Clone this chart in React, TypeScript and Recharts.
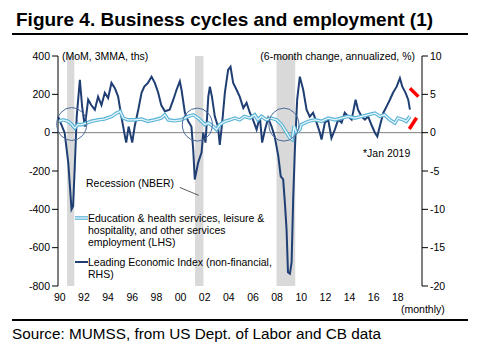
import {
  ComposedChart,
  Line,
  XAxis,
  YAxis,
  ReferenceArea,
  ReferenceLine,
  ReferenceDot,
} from 'recharts'

// Education & health, leisure & hospitality, other services (MoM, 3MMA, ths) - LHS
const eduYears = [
  1989.86, 1990.27, 1990.7, 1991.0, 1991.24, 1991.5, 1991.8, 1992.2, 1992.6, 1993.2,
  1993.7, 1994.3, 1994.7, 1995.0, 1995.25, 1995.66, 1996.2, 1996.77, 1997.3, 1997.87,
  1998.4, 1998.7, 1998.97, 1999.5, 2000.08, 2000.63, 2001.05, 2001.46, 2001.74, 2002.0,
  2002.3, 2002.7, 2002.98, 2003.25, 2003.67, 2004.1, 2004.5, 2004.9, 2005.3, 2005.74,
  2006.15, 2006.4, 2006.7, 2007.1, 2007.5, 2007.95, 2008.37, 2008.78, 2009.06, 2009.25,
  2009.4, 2009.6, 2009.88, 2010.0, 2010.58, 2011.13, 2011.68, 2012.23, 2012.78, 2013.34,
  2013.9, 2014.44, 2015.0, 2015.54, 2016.1, 2016.5, 2016.9, 2017.34, 2017.75, 2018.0,
  2018.45, 2018.7, 2019.0,
]
const eduValues = [
  59, 67, 59, 42, 24, 42, 42, 50, 59, 67,
  71, 85, 102, 111, 76, 67, 67, 71, 59, 67,
  76, 93, 67, 62, 67, 85, 93, 76, 59, 42,
  50, 33, 16, 42, 59, 67, 76, 67, 85, 76,
  93, 67, 85, 67, 76, 67, 42, 0, -28, -36,
  33, 0, 16, 42, 59, 67, 59, 76, 67, 76,
  85, 76, 85, 93, 102, 85, 93, 67, 50, 76,
  67, 59, 85,
]

// Leading Economic Index (non-financial), 6-month change annualized, % - RHS
const leiYears = [
  1989.86, 1990.14, 1990.4, 1990.7, 1990.97, 1991.1, 1991.24, 1991.4, 1991.66, 1991.85,
  1992.07, 1992.35, 1992.6, 1992.9, 1993.17, 1993.45, 1993.73, 1994.0, 1994.28, 1994.56,
  1994.83, 1995.1, 1995.4, 1995.5, 1995.7, 1996.0, 1996.2, 1996.5, 1996.77, 1997.0,
  1997.3, 1997.6, 1997.87, 1998.15, 1998.4, 1998.7, 1999.1, 1999.4, 1999.67, 1999.94,
  2000.08, 2000.36, 2000.63, 2000.9, 2001.05, 2001.18, 2001.46, 2001.74, 2001.88, 2002.07,
  2002.3, 2002.43, 2002.6, 2002.84, 2003.1, 2003.25, 2003.45, 2003.67, 2003.94, 2004.14,
  2004.36, 2004.64, 2004.9, 2005.2, 2005.47, 2005.74, 2006.0, 2006.3, 2006.57, 2006.76,
  2007.0, 2007.26, 2007.54, 2007.8, 2008.1, 2008.3, 2008.5, 2008.64, 2008.78, 2008.9,
  2009.06, 2009.2, 2009.33, 2009.47, 2009.66, 2009.88, 2010.16, 2010.44, 2010.7, 2010.98,
  2011.27, 2011.54, 2011.68, 2011.95, 2012.23, 2012.5, 2012.78, 2013.06, 2013.34, 2013.6,
  2013.9, 2014.17, 2014.5, 2014.7, 2015.0, 2015.27, 2015.54, 2015.82, 2016.1, 2016.3,
  2016.5, 2016.8, 2017.06, 2017.34, 2017.6, 2017.9, 2018.17, 2018.37, 2018.64, 2018.86,
  2019.0,
]
const leiValues = [
  2.1, 1.0, 0, -3.9, -10, -9.6, -4.4, 2.1, 6.9, 3.4,
  0.8, 4.3, 3.6, 3.0, 4.7, 3.6, 5.2, 4.5, 6.5, 5.8,
  4.7, 2.1, -0.5, -1.3, 0.8, -1.3, 0.8, 3.0, 5.2, 6.0,
  6.5, 7.3, 6.5, 5.2, 3.6, 2.8, 3.0, 4.3, 5.6, 6.7,
  5.6, 2.6, 1.5, 0.8, -2.2, -6.1, -3.9, -2.6, 0, -1.3,
  4.7, 6.0, 4.7, 2.1, 0.8, -1.6, 1.3, 5.2, 8.2, 8.6,
  6.5, 5.6, 4.7, 3.2, 3.9, 2.6, 1.7, 0.4, 2.1, -1.3,
  0.4, 1.9, 0.8, -0.5, -3.1, -5.7, -6.1, -9.1, -12.6, -18.2,
  -18.4, -16.9, -8.7, -2.2, 4.3, 7.3, 5.6, 3.0, 2.1, 2.6,
  1.3, 0, -0.9, 1.3, 1.7, -0.7, 0.4, 1.7, 1.3, 2.6,
  2.1, 1.7, 4.3, 3.0, 2.1, 1.7, 2.1, 1.0, 0, -0.5,
  0.8, 2.6, 3.4, 4.3, 5.2, 6.0, 7.1, 6.0, 5.2, 4.3,
  3.0,
]

// NBER recessions
const recessionStart = [1990.6, 2001.2, 2007.95]
const recessionEnd = [1991.2, 2001.9, 2009.5]

// circled spots (year, LHS value)
const circleYears = [1990.99, 2001.39, 2008.56]
const circleValues = [45, 42, 42]

const xTicks = [1990, 1992, 1994, 1996, 1998, 2000, 2002, 2004, 2006, 2008, 2010, 2012, 2014, 2016, 2018]
const leftTicks = [-800, -600, -400, -200, 0, 200, 400]
const rightTicks = [-20, -15, -10, -5, 0, 5, 10]

type Row = { t: number; edu?: number; lei?: number }

const rows: Row[] = []
eduYears.forEach((t, i) => rows.push({ t, edu: eduValues[i] }))
leiYears.forEach((t, i) => {
  const hit = rows.find((r) => r.t === t)
  if (hit) hit.lei = leiValues[i]
  else rows.push({ t, lei: leiValues[i] })
})
rows.sort((a, b) => a.t - b.t)

const FONT = '"Liberation Sans", Arial, sans-serif'
const NAVY = '#1f3f74'
const CYAN = '#5ab4d6'

const tickStyle = { fill: '#000', fontSize: 10.5, fontFamily: FONT }

function LegendBox() {
  const row = { display: 'flex', alignItems: 'flex-start' } as const
  return (
    <div
      style={{
        position: 'absolute',
        left: 75,
        top: 177,
        width: 230,
        fontFamily: FONT,
        fontSize: 10.5,
        lineHeight: '12px',
        color: '#000',
      }}
    >
      <div style={{ marginLeft: 11, marginBottom: 23 }}>Recession (NBER)</div>
      <div style={row}>
        <svg width={13} height={12} style={{ flex: 'none' }}>
          <line x1={0} y1={6} x2={13} y2={6} stroke={CYAN} strokeWidth={3.6} />
          <line x1={0} y1={6} x2={13} y2={6} stroke="#e6f5fb" strokeWidth={1.3} />
        </svg>
        <div>
          Education &amp; health services, leisure &amp;
          <br />
          hospitality, and other services
          <br />
          employment (LHS)
        </div>
      </div>
      <div style={{ ...row, marginTop: 8 }}>
        <svg width={13} height={12} style={{ flex: 'none' }}>
          <line x1={0} y1={6} x2={13} y2={6} stroke={NAVY} strokeWidth={2} />
        </svg>
        <div>
          Leading Economic Index (non-financial,
          <br />
          RHS)
        </div>
      </div>
    </div>
  )
}

export default function App() {
  return (
    <div
      style={{
        position: 'absolute',
        left: 0,
        top: 0,
        width: 477,
        height: 353,
        background: '#fff',
        fontFamily: FONT,
      }}
    >
      <div
        style={{
          position: 'absolute',
          left: 16,
          top: 9,
          fontSize: 19,
          fontWeight: 700,
          lineHeight: '22px',
          whiteSpace: 'nowrap',
        }}
      >
        Figure 4. Business cycles and employment (1)
      </div>
      <div style={{ position: 'absolute', left: 12, top: 33, width: 456, height: 2, background: '#000' }} />

      <ComposedChart
        width={477}
        height={353}
        data={rows}
        margin={{ top: 56, right: 0, bottom: 47, left: 0 }}
        style={{ position: 'absolute', left: 0, top: 0 }}
      >
        <XAxis
          dataKey="t"
          type="number"
          domain={[1989.85, 2020]}
          ticks={xTicks}
          tickFormatter={(v) => String(v % 100).padStart(2, '0')}
          axisLine={false}
          tickLine={false}
          tick={tickStyle}
          height={20}
          interval={0}
        />
        <YAxis
          yAxisId="left"
          domain={[-800, 400]}
          ticks={leftTicks}
          width={58}
          axisLine={{ stroke: '#000' }}
          tickLine={{ stroke: '#000' }}
          tick={tickStyle}
          interval={0}
        />
        <YAxis
          yAxisId="right"
          orientation="right"
          domain={[-20, 10]}
          ticks={rightTicks}
          width={55}
          axisLine={{ stroke: '#000' }}
          tickLine={{ stroke: '#000' }}
          tick={tickStyle}
          interval={0}
        />

        {recessionStart.map((s, i) => (
          <ReferenceArea
            key={s}
            yAxisId="left"
            x1={s}
            x2={recessionEnd[i]}
            y1={-800}
            y2={400}
            fill="#d9d9d9"
            fillOpacity={1}
            stroke="none"
          />
        ))}

        <ReferenceLine yAxisId="left" y={0} stroke="#808080" strokeWidth={1} />

        <Line
          yAxisId="right"
          dataKey="lei"
          stroke={NAVY}
          strokeWidth={2}
          dot={false}
          connectNulls
          isAnimationActive={false}
          type="linear"
        />
        <Line
          yAxisId="left"
          dataKey="edu"
          stroke={CYAN}
          strokeWidth={3.6}
          dot={false}
          connectNulls
          isAnimationActive={false}
          type="linear"
        />
        <Line
          yAxisId="left"
          dataKey="edu"
          stroke="#e6f5fb"
          strokeWidth={1.3}
          dot={false}
          connectNulls
          isAnimationActive={false}
          type="linear"
        />

        {circleYears.map((x, i) => (
          <ReferenceDot
            key={x}
            yAxisId="left"
            x={x}
            y={circleValues[i]}
            r={15}
            shape={(p: { cx?: number; cy?: number }) => (
              <ellipse cx={p.cx} cy={p.cy} rx={15} ry={16.5} fill="none" stroke="#4b6a98" strokeWidth={1} />
            )}
          />
        ))}

        {/* red marks at the end of the series */}
        <ReferenceLine
          yAxisId="left"
          segment={[
            { x: 2019.0, y: 232 },
            { x: 2019.7, y: 188 },
          ]}
          stroke="#ff0000"
          strokeWidth={3.5}
        />
        <ReferenceLine
          yAxisId="left"
          segment={[
            { x: 2018.95, y: 19 },
            { x: 2019.55, y: 78 },
          ]}
          stroke="#ff0000"
          strokeWidth={3.5}
        />
        {/* pointer from legend to 2001 recession */}
        <ReferenceLine
          yAxisId="left"
          segment={[
            { x: 1999.94, y: -286 },
            { x: 2001.5, y: -327 },
          ]}
          stroke="#333"
          strokeWidth={0.8}
        />
      </ComposedChart>

      <LegendBox />

      <div style={{ position: 'absolute', left: 62, top: 50, fontSize: 10.5, lineHeight: '12px' }}>
        (MoM, 3MMA, ths)
      </div>
      <div
        style={{ position: 'absolute', right: 62, top: 50, fontSize: 10.5, lineHeight: '12px', whiteSpace: 'nowrap' }}
      >
        (6-month change, annualized, %)
      </div>
      <div style={{ position: 'absolute', left: 363, top: 147, fontSize: 10.5, lineHeight: '12px' }}>*Jan 2019</div>
      <div style={{ position: 'absolute', left: 401, top: 303, fontSize: 10.5, lineHeight: '12px' }}>(monthly)</div>

      <div style={{ position: 'absolute', left: 12, top: 319, width: 456, height: 1.5, background: '#000' }} />
      <div style={{ position: 'absolute', left: 12, top: 325, fontSize: 15.3, lineHeight: '18px', whiteSpace: 'nowrap' }}>
        Source: MUMSS, from US Dept. of Labor and CB data
      </div>
    </div>
  )
}
